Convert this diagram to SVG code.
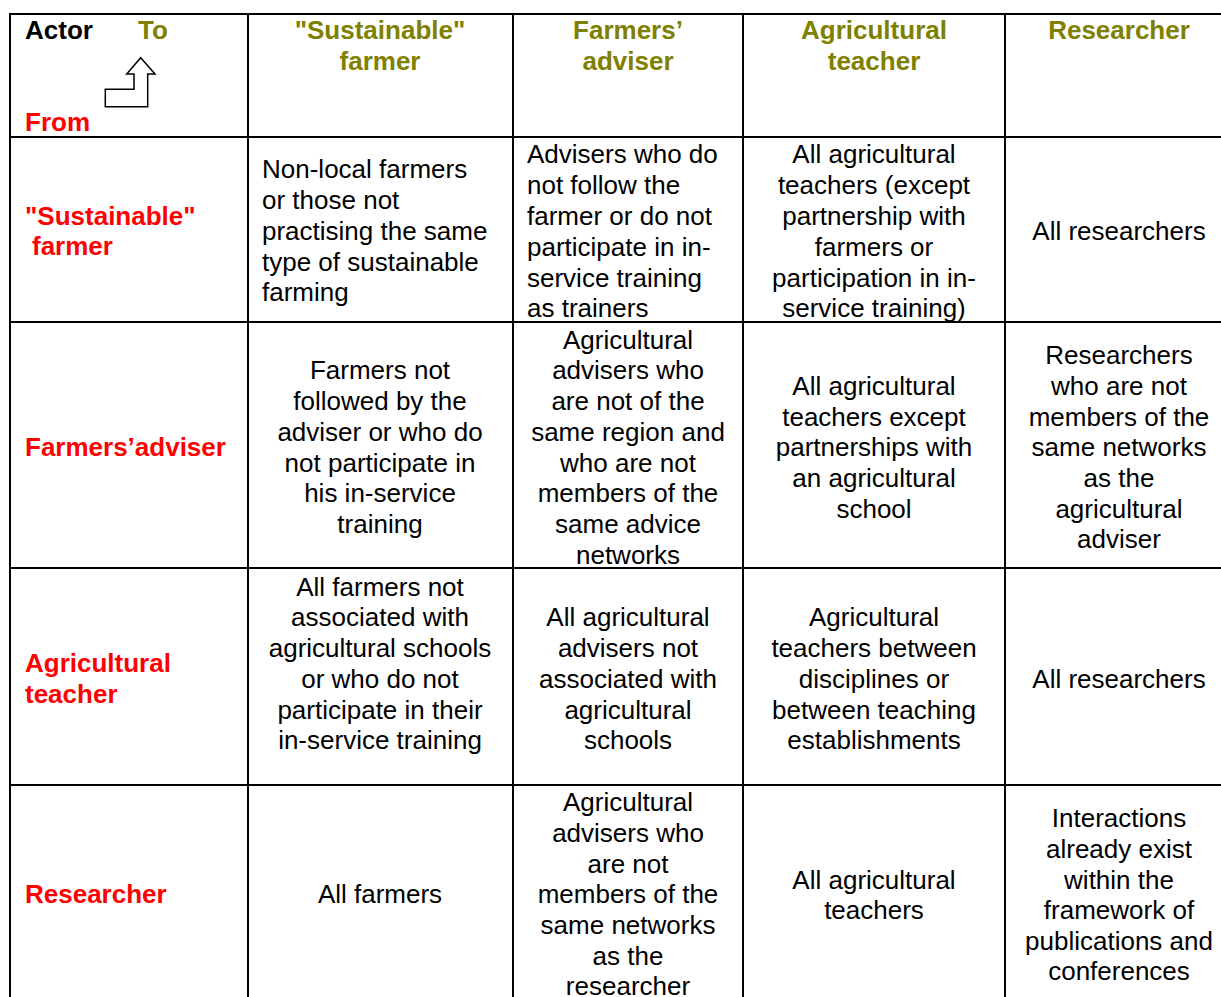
<svg xmlns="http://www.w3.org/2000/svg" width="1221" height="997" viewBox="0 0 1221 997">
<style>
text{font-family:"Liberation Sans",Arial,sans-serif;font-size:26px;fill:#000}
.h{font-weight:bold;fill:#808000}
.r{font-weight:bold;fill:#ff0000}
.b{font-weight:bold}
.c{text-anchor:middle}
.grid line{stroke:#000;stroke-width:2}
</style>
<rect x="0" y="0" width="1221" height="997" fill="#fff"/>
<g class="grid" id="grid">
<line x1="10" y1="14" x2="1221" y2="14"/>
<line x1="10" y1="137" x2="1221" y2="137"/>
<line x1="10" y1="322" x2="1221" y2="322"/>
<line x1="10" y1="568" x2="1221" y2="568"/>
<line x1="10" y1="785" x2="1221" y2="785"/>
<line x1="10" y1="13" x2="10" y2="997"/>
<line x1="248" y1="13" x2="248" y2="997"/>
<line x1="513" y1="13" x2="513" y2="997"/>
<line x1="743" y1="13" x2="743" y2="997"/>
<line x1="1005" y1="13" x2="1005" y2="997"/>
</g>
<g id="corner">
<text x="25" y="39" class="b">Actor</text>
<text x="138" y="39" class="h">To</text>
<text x="25" y="131" class="r">From</text>
<polygon points="140.7,57.7 155,74 147.7,74 147.7,106.7 105.3,106.7 105.3,89.3 134,89.3 134,74 126.7,74" fill="#fff" stroke="#000" stroke-width="1.5"/>
</g>
<g id="col-sustainable-farmer"><text class="h c" x="380" y="39">"Sustainable"<tspan x="380" y="70">farmer</tspan></text></g>
<g id="col-farmers-adviser"><text class="h c" x="628" y="39">Farmers’<tspan x="628" y="70">adviser</tspan></text></g>
<g id="col-agricultural-teacher"><text class="h c" x="874" y="39">Agricultural<tspan x="874" y="70">teacher</tspan></text></g>
<g id="col-researcher"><text class="h c" x="1119" y="39">Researcher</text></g>

<g id="row-sustainable-farmer"><text class="r" x="25" y="225">"Sustainable"<tspan x="32" y="255">farmer</tspan></text></g>
<g id="row-farmers-adviser"><text class="r" x="25" y="456">Farmers’adviser</text></g>
<g id="row-agricultural-teacher"><text class="r" x="25" y="672">Agricultural<tspan x="25" y="703">teacher</tspan></text></g>
<g id="row-researcher"><text class="r" x="25" y="903">Researcher</text></g>

<g id="cell-1-1"><text x="262" y="178">Non-local farmers<tspan x="262" y="209">or those not</tspan><tspan x="262" y="240">practising the same</tspan><tspan x="262" y="271">type of sustainable</tspan><tspan x="262" y="301">farming</tspan></text></g>
<g id="cell-1-2"><text x="527" y="163">Advisers who do<tspan x="527" y="194">not follow the</tspan><tspan x="527" y="225">farmer or do not</tspan><tspan x="527" y="256">participate in in-</tspan><tspan x="527" y="287">service training</tspan><tspan x="527" y="317">as trainers</tspan></text></g>
<g id="cell-1-3"><text class="c" x="874" y="163">All agricultural<tspan x="874" y="194">teachers (except</tspan><tspan x="874" y="225">partnership with</tspan><tspan x="874" y="256">farmers or</tspan><tspan x="874" y="287">participation in in-</tspan><tspan x="874" y="317">service training)</tspan></text></g>
<g id="cell-1-4"><text class="c" x="1119" y="240">All researchers</text></g>

<g id="cell-2-1"><text class="c" x="380" y="379">Farmers not<tspan x="380" y="410">followed by the</tspan><tspan x="380" y="441">adviser or who do</tspan><tspan x="380" y="472">not participate in</tspan><tspan x="380" y="502">his in-service</tspan><tspan x="380" y="533">training</tspan></text></g>
<g id="cell-2-2"><text class="c" x="628" y="349">Agricultural<tspan x="628" y="379">advisers who</tspan><tspan x="628" y="410">are not of the</tspan><tspan x="628" y="441">same region and</tspan><tspan x="628" y="472">who are not</tspan><tspan x="628" y="502">members of the</tspan><tspan x="628" y="533">same advice</tspan><tspan x="628" y="564">networks</tspan></text></g>
<g id="cell-2-3"><text class="c" x="874" y="395">All agricultural<tspan x="874" y="426">teachers except</tspan><tspan x="874" y="456">partnerships with</tspan><tspan x="874" y="487">an agricultural</tspan><tspan x="874" y="518">school</tspan></text></g>
<g id="cell-2-4"><text class="c" x="1119" y="364">Researchers<tspan x="1119" y="395">who are not</tspan><tspan x="1119" y="426">members of the</tspan><tspan x="1119" y="456">same networks</tspan><tspan x="1119" y="487">as the</tspan><tspan x="1119" y="518">agricultural</tspan><tspan x="1119" y="548">adviser</tspan></text></g>

<g id="cell-3-1"><text class="c" x="380" y="596">All farmers not<tspan x="380" y="626">associated with</tspan><tspan x="380" y="657">agricultural schools</tspan><tspan x="380" y="688">or who do not</tspan><tspan x="380" y="719">participate in their</tspan><tspan x="380" y="749">in-service training</tspan></text></g>
<g id="cell-3-2"><text class="c" x="628" y="626">All agricultural<tspan x="628" y="657">advisers not</tspan><tspan x="628" y="688">associated with</tspan><tspan x="628" y="719">agricultural</tspan><tspan x="628" y="749">schools</tspan></text></g>
<g id="cell-3-3"><text class="c" x="874" y="626">Agricultural<tspan x="874" y="657">teachers between</tspan><tspan x="874" y="688">disciplines or</tspan><tspan x="874" y="719">between teaching</tspan><tspan x="874" y="749">establishments</tspan></text></g>
<g id="cell-3-4"><text class="c" x="1119" y="688">All researchers</text></g>

<g id="cell-4-1"><text class="c" x="380" y="903">All farmers</text></g>
<g id="cell-4-2"><text class="c" x="628" y="811">Agricultural<tspan x="628" y="842">advisers who</tspan><tspan x="628" y="873">are not</tspan><tspan x="628" y="903">members of the</tspan><tspan x="628" y="934">same networks</tspan><tspan x="628" y="965">as the</tspan><tspan x="628" y="995">researcher</tspan></text></g>
<g id="cell-4-3"><text class="c" x="874" y="889">All agricultural<tspan x="874" y="919">teachers</tspan></text></g>
<g id="cell-4-4"><text class="c" x="1119" y="827">Interactions<tspan x="1119" y="858">already exist</tspan><tspan x="1119" y="889">within the</tspan><tspan x="1119" y="919">framework of</tspan><tspan x="1119" y="950">publications and</tspan><tspan x="1119" y="980">conferences</tspan></text></g>
</svg>
